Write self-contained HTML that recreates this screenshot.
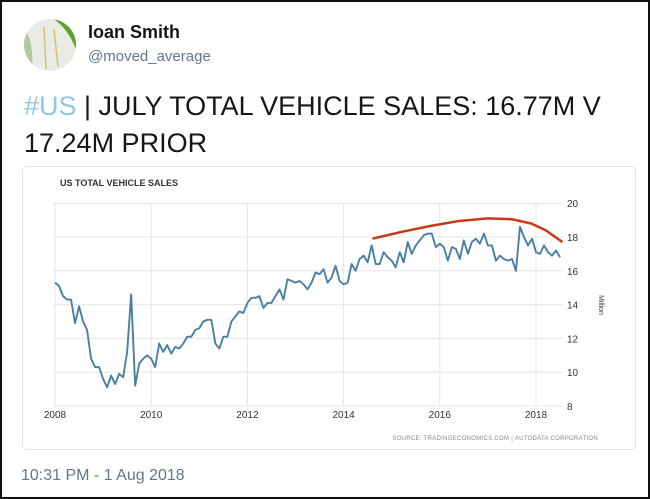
<!DOCTYPE html>
<html><head><meta charset="utf-8"><style>
html,body{margin:0;padding:0;background:#fff;}
body{width:650px;height:499px;position:relative;overflow:hidden;font-family:"Liberation Sans",sans-serif;}
.frame{position:absolute;left:0;top:0;width:646px;height:495px;border:2px solid #111;}
.abs{position:absolute;white-space:nowrap;}
</style></head><body>
<div class="frame"></div>
<svg class="abs" style="left:24px;top:19px" width="52" height="52">
<defs><clipPath id="c"><circle cx="26" cy="26" r="26"/></clipPath></defs>
<g clip-path="url(#c)"><rect width="52" height="52" fill="#e8ece4"/><path d="M30 0 L52 0 L52 30 Q44 10 30 0Z" fill="#5aa02c"/><path d="M0 10 Q10 20 8 52 L0 52Z" fill="#b9c7a0"/><path d="M20 8 L22 50 M30 10 L34 48" stroke="#d9c36a" stroke-width="1.5"/></g></svg>
<div class="abs" style="left:88px;top:22px;font-size:18px;font-weight:bold;color:#14171a">Ioan Smith</div>
<div class="abs" style="left:88px;top:48px;font-size:15px;color:#657786">@moved_average</div>
<div class="abs" style="left:24px;top:88px;font-size:27px;line-height:37px;color:#14171a;white-space:normal;width:610px"><span style="color:#8fc7ea">#US</span> | JULY TOTAL VEHICLE SALES: 16.77M V 17.24M PRIOR</div>
<div class="abs" style="left:22px;top:166px;width:614px;height:284px;border:1px solid #e1e6ea;border-radius:5px;box-sizing:border-box"></div>
<svg id="chart" class="abs" style="left:0;top:0" width="650" height="499"></svg>
<div class="abs" style="left:21px;top:467px;font-size:16px;color:#657786">10:31 PM - 1 Aug 2018</div>
<script>
const years=[2008,2010,2012,2014,2016,2018];
const yTicks=[8,10,12,14,16,18,20];
const sales=[
15.3,15.1,14.5,14.3,14.3,12.9,13.9,13.0,12.5,10.8,10.3,10.3,
9.6,9.1,9.8,9.3,9.9,9.7,11.2,14.6,9.2,10.5,10.8,11.0,
10.8,10.3,11.7,11.2,11.6,11.1,11.5,11.4,11.7,12.1,12.1,12.5,
12.6,13.0,13.1,13.1,11.7,11.4,12.1,12.1,13.0,13.3,13.6,13.5,
14.1,14.4,14.4,14.5,13.8,14.1,14.1,14.5,14.9,14.3,15.5,15.4,
15.3,15.4,15.2,14.9,15.3,15.9,15.8,16.1,15.3,15.6,16.3,15.4,
15.2,15.3,16.4,16.0,16.7,16.9,16.5,17.5,16.4,16.4,17.1,16.8,
16.6,16.2,17.1,16.5,17.7,17.0,17.5,17.8,18.1,18.2,18.2,17.4,
17.6,17.4,16.6,17.4,17.3,16.7,17.8,17.0,17.7,17.9,17.6,18.2,
17.5,17.5,16.6,16.9,16.7,16.6,16.7,16.0,18.6,18.0,17.5,17.9,
17.1,17.0,17.5,17.1,16.9,17.2,16.8];
const trendX=[2014.6,2015.2,2015.8,2016.4,2017.0,2017.5,2017.9,2018.2,2018.55];
const trendY=[17.9,18.3,18.65,18.95,19.1,19.05,18.8,18.4,17.7];
const ns="http://www.w3.org/2000/svg",svg=document.getElementById('chart');
const X=t=>55+(t-2008)*48.1, Y=v=>406-(v-8)*16.9;
function mk(tag,a,txt){const e=document.createElementNS(ns,tag);for(const k in a)e.setAttribute(k,a[k]);if(txt!==undefined)e.textContent=txt;svg.appendChild(e);return e;}
let t=mk('text',{x:60,y:186,'font-size':9,'font-weight':'bold',fill:'#333'},'US TOTAL VEHICLE SALES');

yTicks.forEach(v=>{let l=mk('line',{x1:53,x2:563,y1:Y(v),y2:Y(v),stroke:'#e6e6e6'});

let tx=mk('text',{x:567,y:Y(v)+4,'font-size':10,fill:'#333'},v);
});
years.forEach(yr=>{let l=mk('line',{x1:X(yr),x2:X(yr),y1:Y(20),y2:Y(8),stroke:'#e6e6e6'});

let tx=mk('text',{x:X(yr),y:418,'font-size':10,fill:'#333','text-anchor':'middle'},yr);
});
let at=mk('text',{x:0,y:0,'font-size':7,fill:'#333','text-anchor':'middle',transform:'translate(599,305) rotate(90)'},'Million');

let p=mk('polyline',{points:sales.map((v,i)=>X(2008+i/12)+','+Y(v)).join(' '),fill:'none',stroke:'#4a7fa3','stroke-width':1.9,'stroke-linejoin':'round'});

let r=mk('polyline',{points:trendX.map((x,i)=>X(x)+','+Y(trendY[i])).join(' '),fill:'none',stroke:'#c8391c','stroke-width':2.5,'stroke-linejoin':'round'});

let s=mk('text',{x:598,y:440,'font-size':6,fill:'#888','text-anchor':'end','letter-spacing':0.3},'SOURCE: TRADINGECONOMICS.COM | AUTODATA CORPORATION');

</script>
</body></html>
